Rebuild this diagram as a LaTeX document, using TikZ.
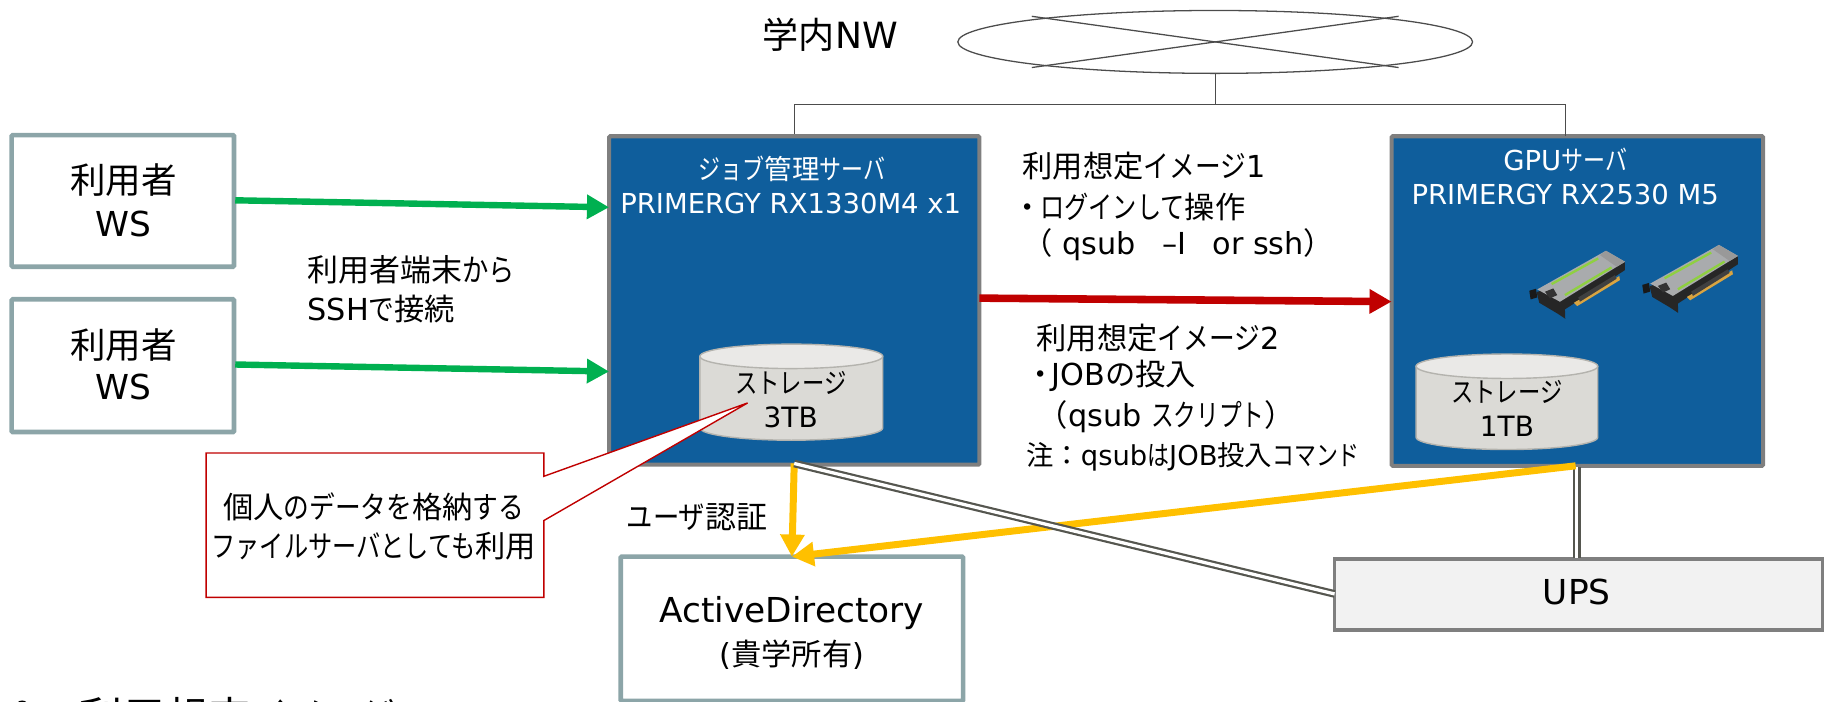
\documentclass[tikz,border=0pt]{standalone}
\usepackage{fontspec}
\setmainfont{Noto Sans CJK JP}
\newfontfamily\latfam{DejaVu Sans}
\newfontfamily\kanaA[FakeStretch=0.85]{Noto Sans CJK JP}
\newfontfamily\kanaB[FakeStretch=0.8]{Noto Sans CJK JP}
\newfontfamily\kanaC[FakeStretch=0.75]{Noto Sans CJK JP}
\newcommand{\latn}[1]{{\latfam #1}}
\newcommand{\kana}[1]{{\kanaA #1}}
\newcommand{\kanam}[1]{{\kanaB #1}}
\newcommand{\kanan}[1]{{\kanaC #1}}
\newcommand{\fs}[1]{\fontsize{#1}{#1}\selectfont}
\usetikzlibrary{arrows.meta,shapes.geometric}
\definecolor{wsline}{HTML}{8CA5A8}
\definecolor{srvblue}{HTML}{0F5E9C}
\definecolor{srvline}{HTML}{7F7F7F}
\definecolor{cylfill}{HTML}{DBDAD6}
\definecolor{cyltop}{HTML}{EAE9E7}
\definecolor{cylline}{HTML}{B4B3AE}
\definecolor{okgreen}{HTML}{00B050}
\definecolor{darkred}{HTML}{C00000}
\definecolor{amber}{HTML}{FFC000}
\definecolor{dblline}{HTML}{55564F}
\definecolor{cardgreen}{HTML}{8FD040}
\definecolor{cardbody}{HTML}{A9ABAD}
\definecolor{cardgold}{HTML}{D9A441}
\newcommand{\storagecyl}[4]{%
  \path[draw=cylline,line width=1.2pt,fill=cylfill]
    (#1-#4,#2) -- (#1-#4,#3) arc[start angle=180,end angle=0,x radius=#4,y radius=10.5] -- (#1+#4,#2) -- cycle;
  \path[draw=cylline,line width=1.2pt,fill=cyltop] (#1,#2) ellipse[x radius=#4,y radius=10.5];
}
\tikzset{
  wsbox/.style={draw=wsline,line width=4pt,fill=white,align=center,inner sep=0pt,rounded corners=1pt},
  srvbox/.style={draw=srvline,line width=3.5pt,fill=srvblue,rounded corners=1pt},
  lbl/.style={anchor=west,inner sep=0pt,text=black},
  plain/.style={inner sep=0pt,text=black},
  whitelbl/.style={text=white,inner sep=0pt,align=center},
  conn/.style={line width=1.1pt,draw=black!70},
  arr/.style={line width=#1,-{Triangle[length=19pt,width=20pt]}},
  dbl/.style={draw=dblline,line width=6.6pt},
  dblin/.style={draw=white,line width=2.8pt},
  cardpic/.pic={
    \begin{scope}[x=0.2862pt,y=-0.2862pt]
      \fill[black!90] (88,212) -- (108,206) -- (112,232) -- (92,238) -- cycle;
      \fill[black!85] (110,216) -- (375,126) -- (375,150) -- (195,268) -- (196,296) -- (172,280) -- (118,248) -- cycle;
      \fill[cardgold] (222,248) -- (358,168) -- (360,180) -- (232,258) -- cycle;
      \fill[black!75] (235,232) -- (345,165) -- (350,176) -- (240,245) -- cycle;
      \fill[cardbody] (112,208) -- (318,92) -- (375,125) -- (180,245) -- cycle;
      \fill[black!40] (300,105) -- (318,92) -- (375,125) -- (350,140) -- cycle;
      \draw[cardgreen,line width=2pt] (155,192) -- (295,115);
      \draw[cardgreen,line width=2pt] (195,225) -- (335,142);
      \fill[black!80] (135,215) -- (160,205) -- (172,225) -- (150,235) -- cycle;
    \end{scope}
  }
}
\begin{document}
\begin{tikzpicture}[x=1pt,y=-1pt]
\useasboundingbox (0,0) rectangle (1568,602);
% campus network
\node[plain] (campus) at (713,30) {\fs{31}学内\latn{NW}};
\node[draw=black!70,line width=1.1pt,ellipse,minimum width=442pt,minimum height=54pt,inner sep=0pt] (nw) at (1043.5,36) {};
\coordinate (xa) at (886,14); \coordinate (xb) at (1201,58);
\coordinate (xc) at (886,58); \coordinate (xd) at (1201,14);
\draw[conn] (xa) -- (xb);
\draw[conn] (xc) -- (xd);
% servers
\node[srvbox,minimum width=318pt,minimum height=282pt,inner sep=0pt] (job) at (682,258) {};
\node[srvbox,minimum width=319pt,minimum height=283pt,inner sep=0pt] (gpu) at (1354.5,258.5) {};
\coordinate (busc) at (1043.5,90);
\draw[conn] (nw.south) -- (busc);
\draw[conn] (job.north) -- (682,90) -- (1344,90) -- (1344,116.5);
% WS
\node[wsbox,minimum width=191pt,minimum height=113pt] (ws1) at (105.5,172.5) {};
\node[plain] (ws1a) at (106,155) {\fs{30.5}利用者};
\node[plain] (ws1b) at (106,192) {\fs{29.5}\latn{WS}};
\node[wsbox,minimum width=191pt,minimum height=114pt] (ws2) at (105.5,314) {};
\node[plain] (ws2a) at (106,296) {\fs{30.5}利用者};
\node[plain] (ws2b) at (106,332) {\fs{29.5}\latn{WS}};
% AD and UPS
\node[wsbox,minimum width=294pt,minimum height=124pt] (ad) at (680,540) {};
\node[plain] (adt1) at (680,526) {\fs{29.5}\latn{ActiveDirectory}};
\node[plain] (adt2) at (680,562) {\fs{26}\latn{(}貴学所有\latn{)}};
\node[draw=srvline,line width=3pt,fill=black!5,minimum width=419pt,minimum height=61pt,inner sep=0pt] (ups) at (1355.5,510.5) {};
\node[plain] (upst) at (1354,508) {\fs{29.5}\latn{UPS}};
% server text
\node[whitelbl] (jobt1) at (680,145) {\fs{23.6}\kanam{ジョブ}管理\kanam{サーバ}};
\node[whitelbl] (jobt2) at (679,175) {\fs{23.6}\latn{PRIMERGY RX1330M4 x1}};
\node[whitelbl] (gput1) at (1344,137) {\fs{23.6}\latn{GPU}\kanam{サーバ}};
\node[whitelbl] (gput2) at (1344,167) {\fs{23.6}\latn{PRIMERGY RX2530 M5}};
% cards
\pic at (1288,189) {cardpic};
\pic at (1385,184) {cardpic};
% storage
\storagecyl{679.5}{306}{367.5}{78.5}
\storagecyl{1294}{314.5}{375.5}{78}
\node[plain] (st1a) at (679,329) {\fs{24}\kanam{ストレージ}};
\node[plain] (st1b) at (679,358) {\fs{24}\latn{3TB}};
\node[plain] (st2a) at (1294,336.5) {\fs{24}\kanam{ストレージ}};
\node[plain] (st2b) at (1294,366.5) {\fs{24}\latn{1TB}};
% connectors
\coordinate (g1a) at (202,172); \coordinate (g1b) at (523,178);
\coordinate (g2a) at (202,313); \coordinate (g2b) at (523,319);
\draw[okgreen,arr=5.5pt] (g1a) -- (g1b);
\draw[okgreen,arr=5.5pt] (g2a) -- (g2b);
\coordinate (ra) at (841,256); \coordinate (rb) at (1195,259);
\draw[darkred,arr=6.5pt] (ra) -- (rb);
\coordinate (ua) at (1354,401); \coordinate (ub) at (1354,479);
\draw[dbl] (ua) -- (ub);
\draw[dblin] (ua) -- (ub);
\coordinate (oa) at (682,398); \coordinate (ob) at (680,478);
\coordinate (oc) at (1353,400);
\draw[amber,arr=6pt] (oa) -- (ob);
\draw[amber,arr=6pt] (oc) -- (ob);
\coordinate (da) at (682,398); \coordinate (db) at (1146,510);
\draw[dbl] (da) -- (db);
\draw[dblin] (da) -- (db);
% callout
\coordinate (tip) at (642,346);
\path[draw=darkred,line width=1.2pt,fill=white,line join=miter] (177,389) -- (467,389) -- (467,409) -- (tip) -- (467,447) -- (467,513) -- (177,513) -- cycle;
\node[plain] (call1) at (321,435) {\fs{26}個人\kana{のデータを}格納\kana{する}};
\node[plain] (call2) at (321,469) {\fs{26}\kanam{ファイルサーバとしても}利用};
% labels
\node[lbl] (l1) at (264,232) {\fs{26.6}利用者端末\kana{から}};
\node[lbl] (l2) at (264,265) {\fs{26}\latn{SSH}\kana{で}接続};
\node[lbl] (m1) at (878,143) {\fs{26}利用想定\kana{イメージ}\latn{1}};
\node[lbl] (m2) at (869,178) {\fs{26}・\hspace{-2pt}\kanam{ログインして}操作};
\node[lbl] (m3) at (878,210) {\fs{26}（\latn{ qsub}\hspace{23pt}\latn{–I}\hspace{22pt}\latn{or ssh}）};
\node[lbl] (n1) at (890,290) {\fs{26}利用想定\kana{イメージ}\latn{2}};
\node[lbl] (n2) at (880,323) {\fs{26}・\hspace{-3pt}\latn{JOB}の投入};
\node[lbl] (n3) at (891,358) {\fs{26}（\latn{qsub }\kanan{スクリプト}）};
\node[lbl] (n4) at (881,392) {\fs{23.5}注：\latn{qsub}\kanam{は}\latn{JOB}投入\kanam{コマンド}};
\node[lbl] (auth) at (538,444) {\fs{26.6}\kana{ユーザ}認証};
\node[lbl] (bottom) at (68,616) {\fs{37}利用想定\kana{イメージ}};
\fill[black] (19,607) circle (5.5pt);
\end{tikzpicture}
\end{document}
